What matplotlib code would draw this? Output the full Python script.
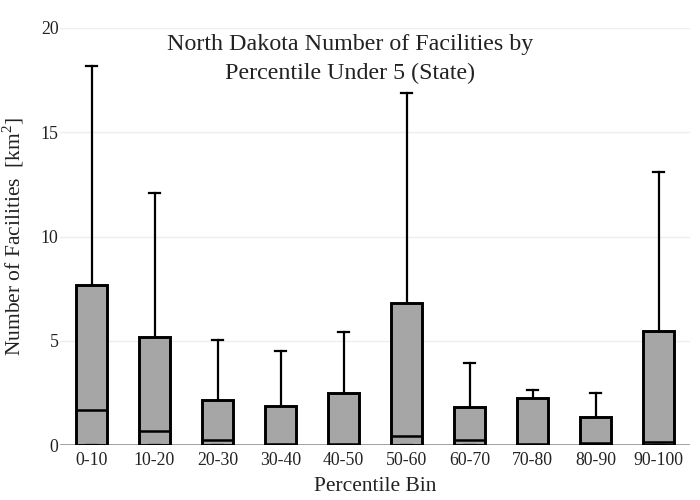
import matplotlib
matplotlib.use("Agg")
import matplotlib.pyplot as plt

plt.rcParams['font.family'] = ['Liberation Serif', 'DejaVu Serif']
plt.rcParams['mathtext.fontset'] = 'custom'
plt.rcParams['mathtext.rm'] = 'Liberation Serif'

categories = ["0-10", "10-20", "20-30", "30-40", "40-50", "50-60", "60-70", "70-80", "80-90", "90-100"]
q1 = [0, 0, 0, 0, 0, 0, 0, 0, 0, 0]
medians = [1.68, 0.67, 0.24, 0.03, 0.04, 0.43, 0.24, 0.05, 0.1, 0.14]
q3 = [7.67, 5.18, 2.16, 1.87, 2.49, 6.81, 1.82, 2.25, 1.34, 5.47]
upper_whisker = [18.18, 12.09, 5.04, 4.5, 5.42, 16.88, 3.93, 2.64, 2.49, 13.1]
lower_whisker = [0, 0, 0, 0, 0, 0, 0, 0, 0, 0]

stats = []
for i, c in enumerate(categories):
    stats.append(dict(label=c, q1=q1[i], med=medians[i], q3=q3[i],
                      whislo=lower_whisker[i], whishi=upper_whisker[i], fliers=[]))

fig = plt.figure(figsize=(7, 5), dpi=100)
ax = fig.add_axes([60/700, 1 - 445/500, 630/700, (445 - 28)/500])

ax.set_axisbelow(True)
ax.yaxis.grid(True, color='#eeeeee', linewidth=1)
ax.axhline(0, color='#999999', linewidth=2, zorder=1)

ax.bxp(stats, positions=range(len(categories)), widths=0.5, capwidths=0.19,
       patch_artist=True, showfliers=False,
       boxprops=dict(facecolor='#a6a6a6', edgecolor='black', linewidth=2.1),
       medianprops=dict(color='black', linewidth=1.8),
       whiskerprops=dict(color='black', linewidth=1.6),
       capprops=dict(color='black', linewidth=1.6))

ax.set_xlim(-0.5, len(categories) - 0.5)
ax.set_ylim(0, 20)
ax.set_yticks([0, 5, 10, 15, 20])
ax.set_xticks(range(len(categories)))
ax.set_xticklabels(categories)
for s in ax.spines.values():
    s.set_visible(False)
ax.tick_params(length=0, labelsize=12.8, colors='#222222')
ax.tick_params(axis='x', pad=5)
ax.tick_params(axis='y', pad=1)

ax.set_xlabel("Percentile Bin", fontsize=15.5, color='#222222', labelpad=6)
ax.set_ylabel("Number of Facilities  [km$^2$]", fontsize=15.5, color='#222222')
ax.yaxis.set_label_coords(-0.054, 0.5)

fig.text(350/700, 1 - 59/500, "North Dakota Number of Facilities by\nPercentile Under 5 (State)",
         ha='center', va='center', fontsize=17.3, color='#222222', linespacing=1.5)

fig.savefig("out.png", dpi=100)
